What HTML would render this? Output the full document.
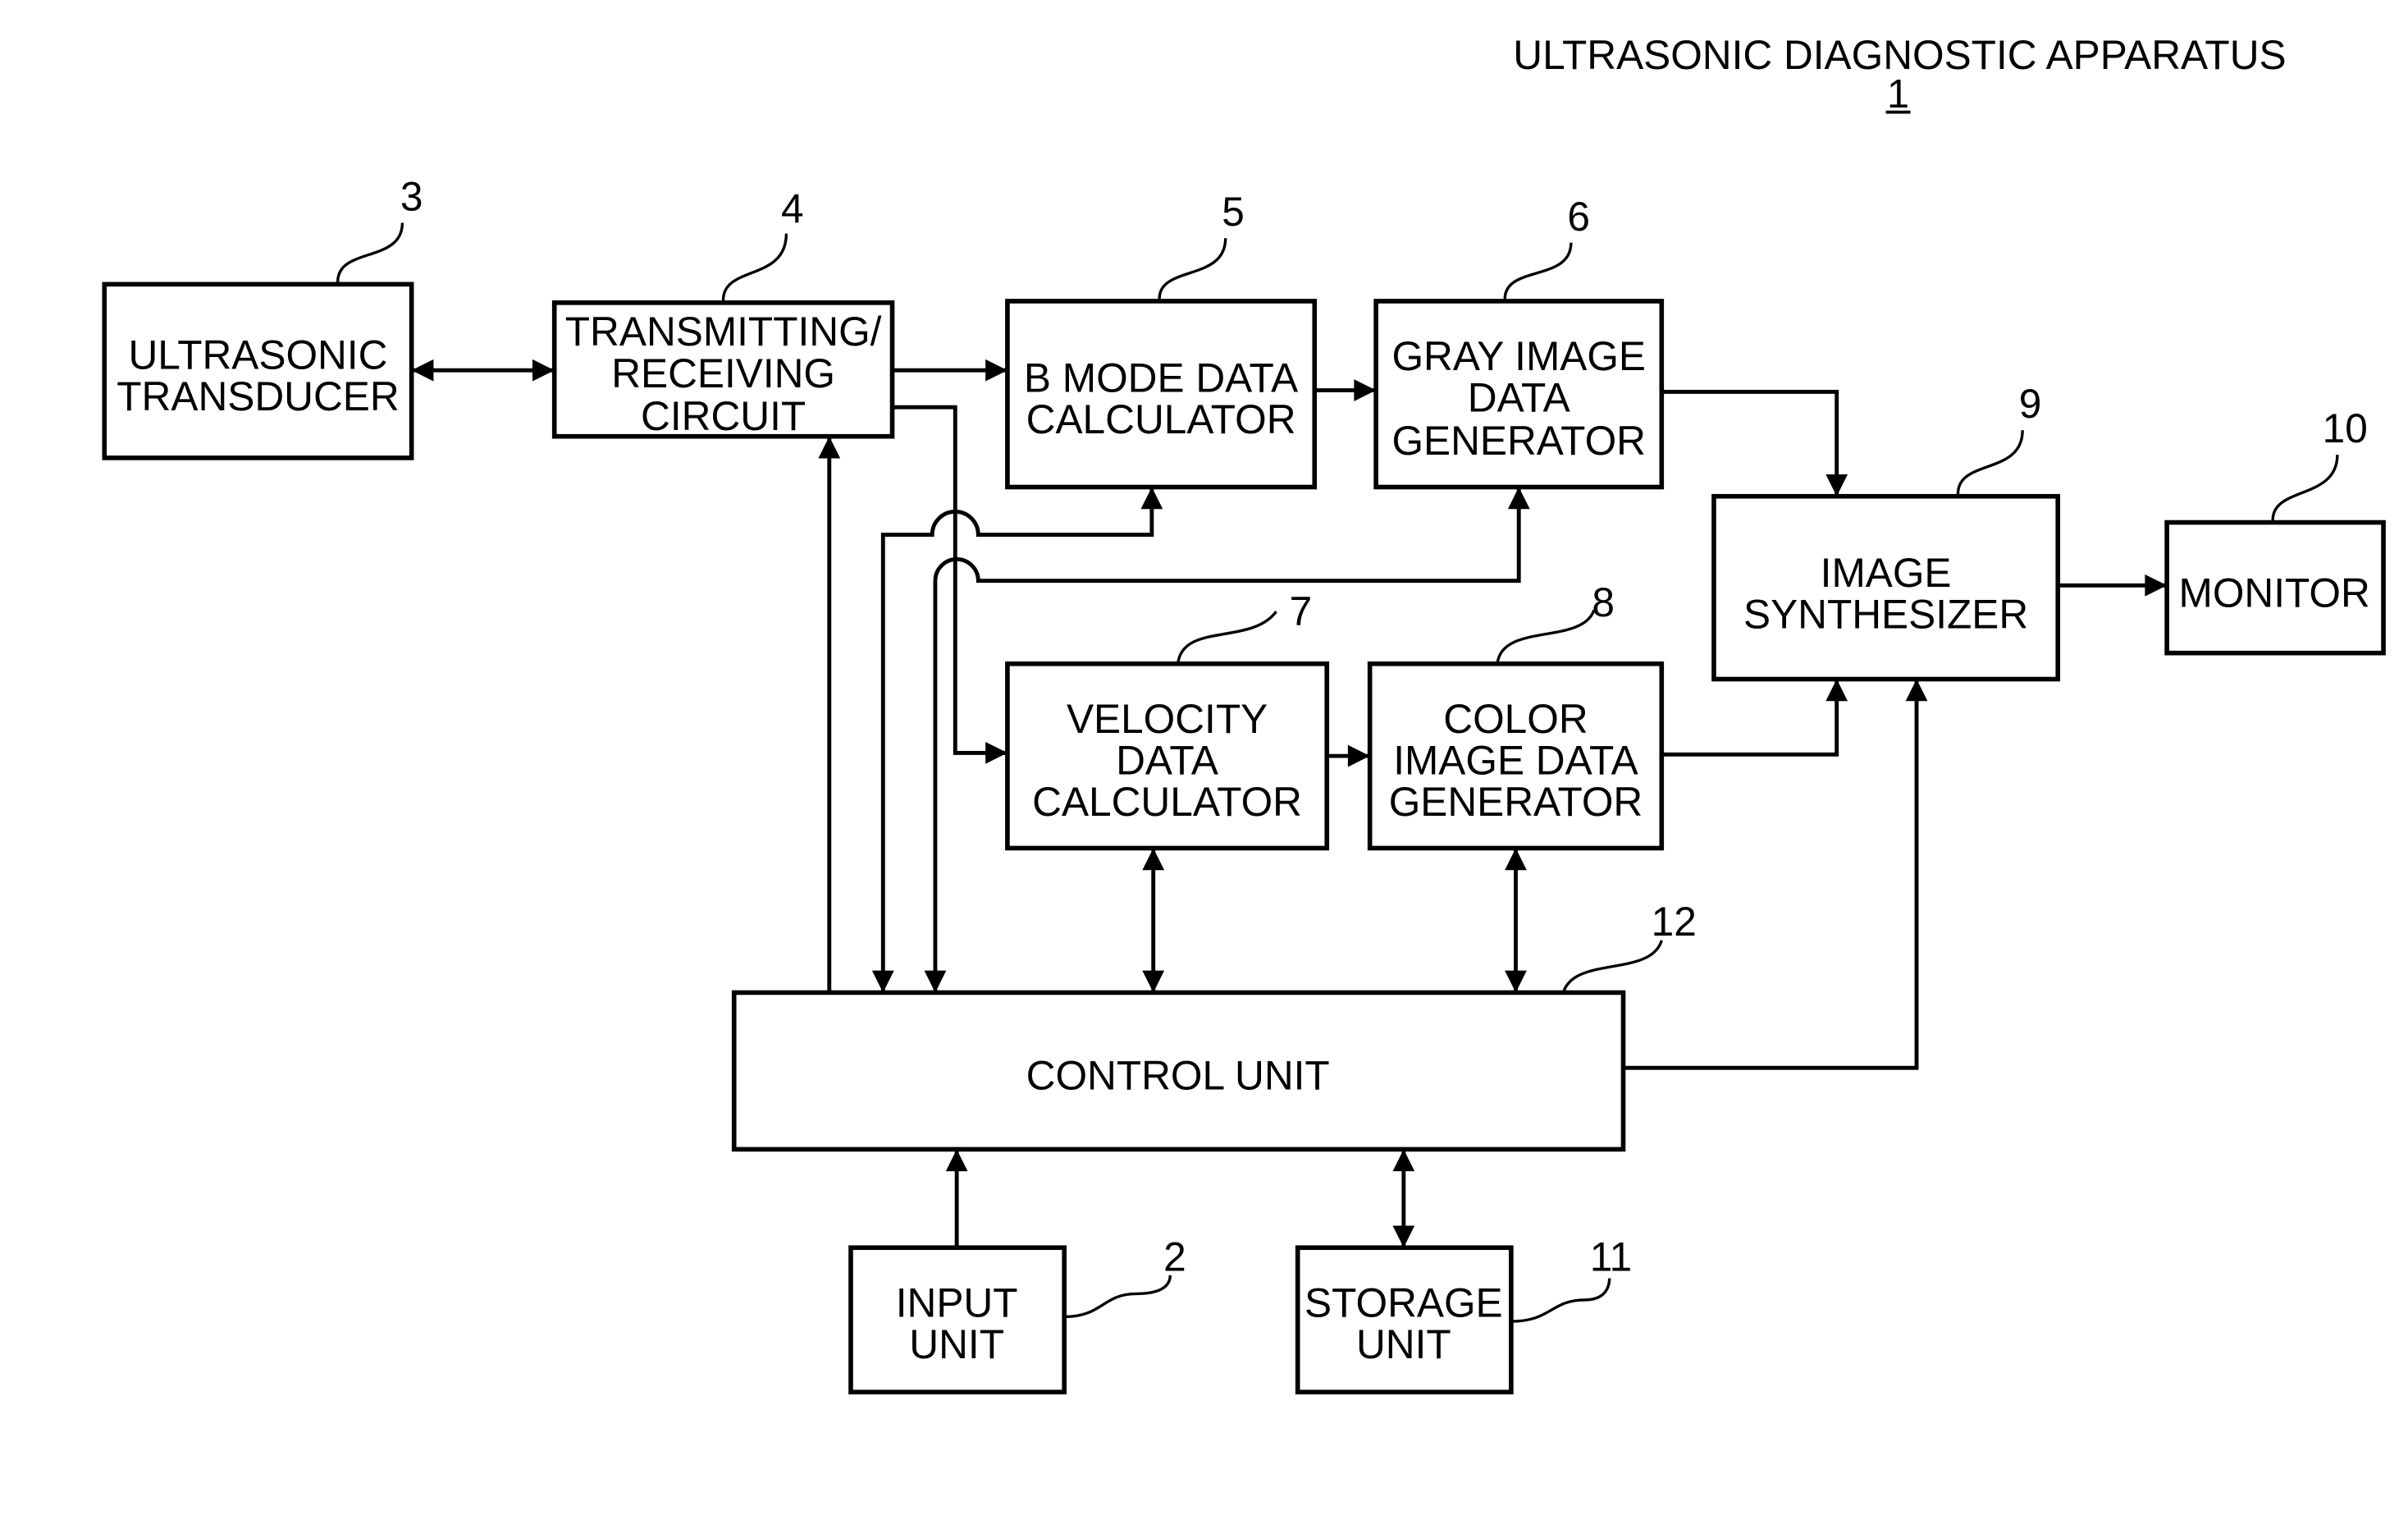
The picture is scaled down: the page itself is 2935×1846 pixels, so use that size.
<!DOCTYPE html>
<html><head><meta charset="utf-8"><style>
html,body{margin:0;padding:0;background:#fff;}
svg{display:block;}
text{font-family:"Liberation Sans",Arial,sans-serif;font-size:26.5px;fill:#000;text-anchor:middle;}
</style></head><body>
<svg width="2935" height="1846" viewBox="0 0 1568 986" preserveAspectRatio="none" xmlns="http://www.w3.org/2000/svg">
<defs>
<marker id="a" viewBox="0 0 10 10" refX="10" refY="5" markerWidth="6.5" markerHeight="5.5" orient="auto-start-reverse" markerUnits="strokeWidth">
<path d="M0,0 L10,5 L0,10 z" fill="#000"/></marker>
</defs>
<g fill="none" stroke="#000" stroke-width="3">
<rect x="68" y="185" width="200" height="113"/>
<rect x="361" y="197" width="220" height="87"/>
<rect x="656" y="196" width="200" height="121"/>
<rect x="896" y="196" width="186" height="121"/>
<rect x="1116" y="323" width="224" height="119"/>
<rect x="1411" y="340" width="141" height="85"/>
<rect x="656" y="432" width="208" height="120"/>
<rect x="892" y="432" width="190" height="120"/>
<rect x="478" y="646" width="579" height="102"/>
<rect x="554" y="812" width="139" height="94"/>
<rect x="845" y="812" width="139" height="94"/>
</g>
<g fill="none" stroke="#000" stroke-width="2.6">
<line x1="268" y1="241" x2="361" y2="241" marker-start="url(#a)" marker-end="url(#a)"/>
<line x1="581" y1="241" x2="656" y2="241" marker-end="url(#a)"/>
<path d="M581,265 H622 V490 H656" marker-end="url(#a)"/>
<path d="M575,646 V348 H607 A15,15 0 0 1 637,348 H750 V317" marker-start="url(#a)" marker-end="url(#a)"/>
<path d="M609,646 V378 A14,14 0 0 1 637,378 H989 V317" marker-start="url(#a)" marker-end="url(#a)"/>
<line x1="540" y1="646" x2="540" y2="284" marker-end="url(#a)"/>
<line x1="751" y1="552" x2="751" y2="646" marker-start="url(#a)" marker-end="url(#a)"/>
<line x1="987" y1="552" x2="987" y2="646" marker-start="url(#a)" marker-end="url(#a)"/>
<path d="M1057,695 H1248 V442" marker-end="url(#a)"/>
<line x1="856" y1="254" x2="896" y2="254" marker-end="url(#a)"/>
<path d="M1082,255 H1196 V323" marker-end="url(#a)"/>
<line x1="864" y1="492" x2="892" y2="492" marker-end="url(#a)"/>
<path d="M1082,491 H1196 V442" marker-end="url(#a)"/>
<line x1="1340" y1="381" x2="1411" y2="381" marker-end="url(#a)"/>
<line x1="623" y1="812" x2="623" y2="748" marker-end="url(#a)"/>
<line x1="914" y1="748" x2="914" y2="812" marker-start="url(#a)" marker-end="url(#a)"/>
</g>
<g fill="none" stroke="#000" stroke-width="1.8">
<path d="M220,185 C218,160 262,172 262,145"/>
<path d="M471,197 C469,172 512,184 512,152"/>
<path d="M755,196 C753,172 798,184 798,155"/>
<path d="M980,196 C978,172 1023,184 1023,158"/>
<path d="M1275,323 C1273,298 1317,310 1317,280"/>
<path d="M1480,340 C1478,316 1522,326 1522,296"/>
<path d="M767,432 C770,405 815,420 831,398"/>
<path d="M975,432 C978,405 1030,420 1038,397"/>
<path d="M1018,646 C1025,622 1075,636 1082,612"/>
<path d="M693,857 C718,857 718,842 740,842 C760,842 762,834 762,830"/>
<path d="M984,860 C1010,860 1010,846 1032,846 C1045,846 1048,838 1048,832"/>
</g>
<text x="268" y="137">3</text>
<text x="516" y="145">4</text>
<text x="803" y="147">5</text>
<text x="1028" y="150">6</text>
<text x="1322" y="272">9</text>
<text x="1527" y="288">10</text>
<text x="847" y="407">7</text>
<text x="1044" y="401">8</text>
<text x="1090" y="609">12</text>
<text x="765" y="827">2</text>
<text x="1049" y="827">11</text>
<text x="1237" y="45" style="font-size:26.5px">ULTRASONIC DIAGNOSTIC APPARATUS</text>
<text x="1236" y="70" style="font-size:26px">1</text>
<line x1="1228" y1="73" x2="1244" y2="73" stroke="#000" stroke-width="2"/>
<text x="168" y="240">ULTRASONIC</text>
<text x="168" y="267">TRANSDUCER</text>
<text x="471" y="225">TRANSMITTING/</text>
<text x="471" y="252">RECEIVING</text>
<text x="471" y="280">CIRCUIT</text>
<text x="756" y="255">B MODE DATA</text>
<text x="756" y="282">CALCULATOR</text>
<text x="989" y="241">GRAY IMAGE</text>
<text x="989" y="268">DATA</text>
<text x="989" y="296">GENERATOR</text>
<text x="1228" y="382">IMAGE</text>
<text x="1228" y="409">SYNTHESIZER</text>
<text x="1481" y="395">MONITOR</text>
<text x="760" y="477">VELOCITY</text>
<text x="760" y="504">DATA</text>
<text x="760" y="531">CALCULATOR</text>
<text x="987" y="477">COLOR</text>
<text x="987" y="504">IMAGE DATA</text>
<text x="987" y="531">GENERATOR</text>
<text x="767" y="709">CONTROL UNIT</text>
<text x="623" y="857">INPUT</text>
<text x="623" y="884">UNIT</text>
<text x="914" y="857">STORAGE</text>
<text x="914" y="884">UNIT</text>
</svg>
</body></html>
